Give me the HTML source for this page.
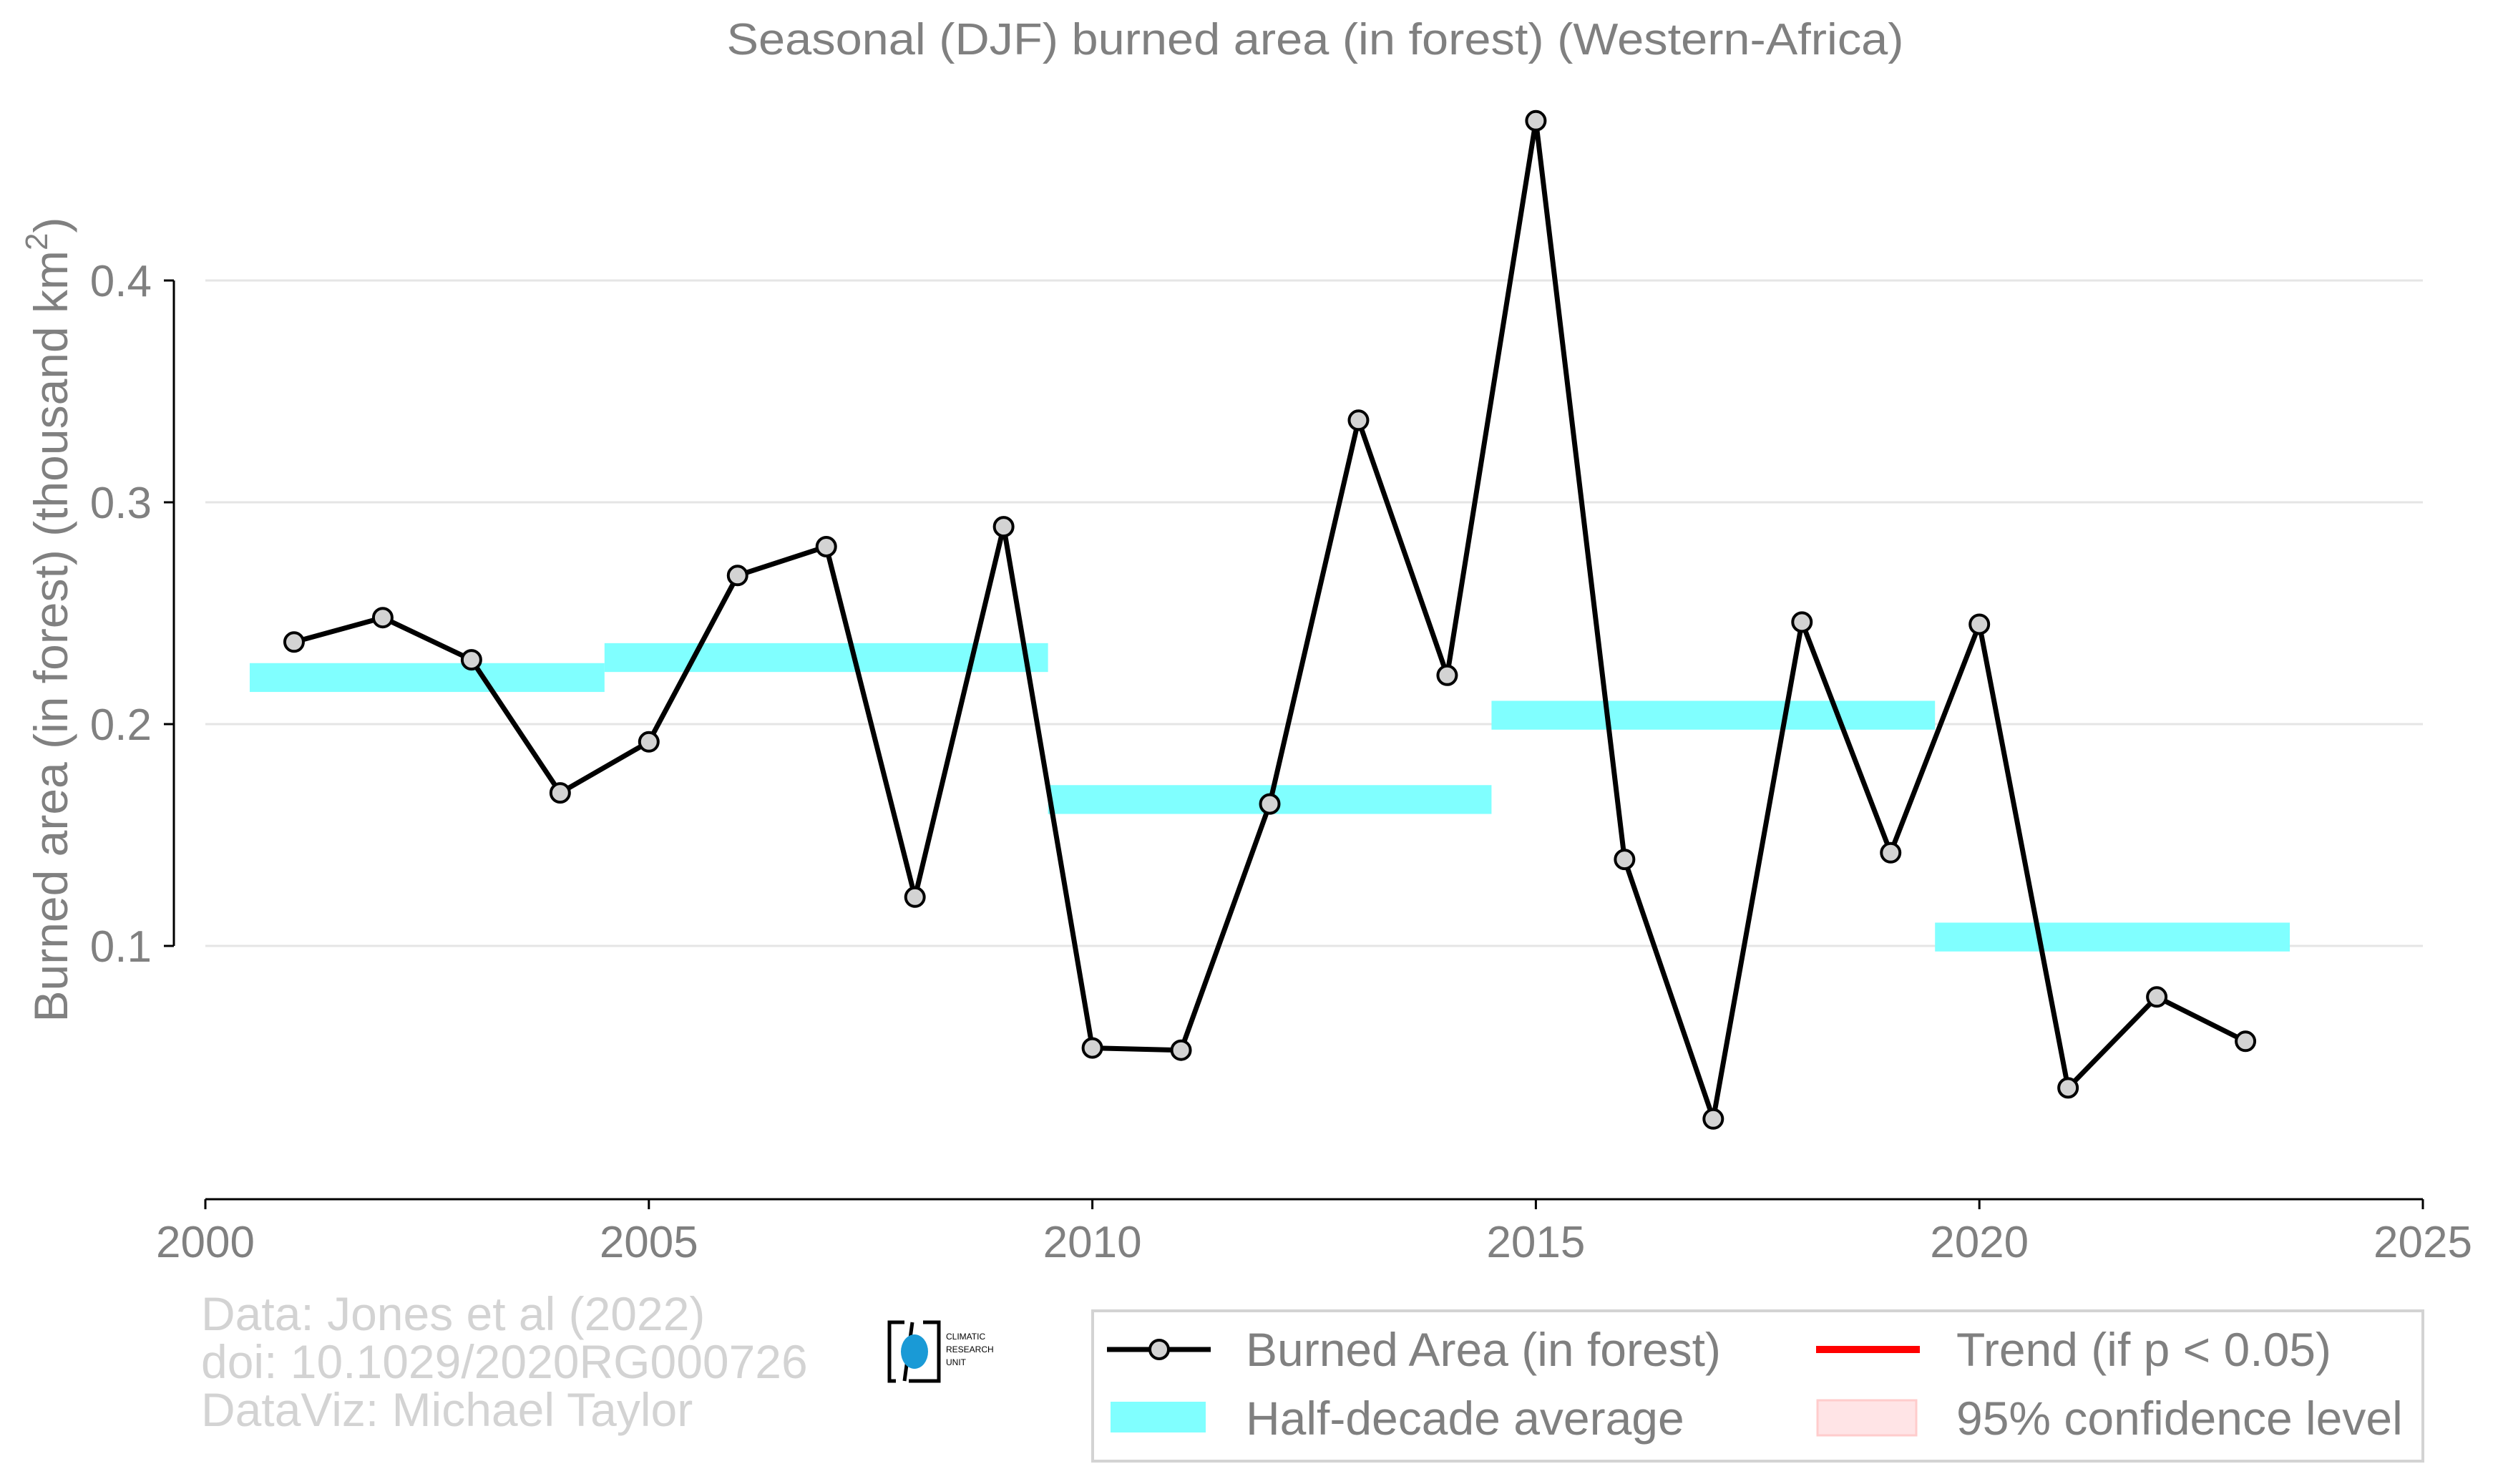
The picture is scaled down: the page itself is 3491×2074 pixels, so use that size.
<!DOCTYPE html>
<html><head><meta charset="utf-8"><style>
html,body{margin:0;padding:0;background:#fff;}
svg{display:block;font-family:"Liberation Sans",Arial,sans-serif;}
</style></head><body>
<svg id="chart" width="3491" height="2074" viewBox="0 0 3491 2074">
<text x="1838" y="76" font-size="62" fill="#808080" text-anchor="middle" textLength="1645" lengthAdjust="spacingAndGlyphs">Seasonal (DJF) burned area (in forest) (Western-Africa)</text>
<g id="grid"></g>
<g id="bars"></g>
<g id="series"></g>
<g id="axes"></g>
<text transform="translate(94,866) rotate(-90)" font-size="66" fill="#808080" text-anchor="middle">Burned area (in forest) (thousand km<tspan font-size="44" dy="-28">2</tspan><tspan dy="28">)</tspan></text>
<g font-size="66" fill="#d3d3d3">
<text x="281" y="1859">Data: Jones et al (2022)</text>
<text x="281" y="1926">doi: 10.1029/2020RG000726</text>
<text x="281" y="1993">DataViz: Michael Taylor</text>
</g>
<g>
<path d="M1264,1848 L1243,1848 L1243,1930 L1252,1930 M1275,1848 L1264,1930 M1290,1848 L1312,1848 L1312,1930 L1270,1930" fill="none" stroke="#000" stroke-width="5"/>
<ellipse cx="1278" cy="1889" rx="19" ry="24" fill="#1a9ad6"/>
<text x="1322" y="1872" font-size="12" fill="#000">CLIMATIC</text>
<text x="1322" y="1890" font-size="12" fill="#000">RESEARCH</text>
<text x="1322" y="1908" font-size="12" fill="#000">UNIT</text>
</g>
<g>
<rect x="1527" y="1832" width="1859" height="210" fill="#fff" stroke="#d3d3d3" stroke-width="4"/>
<g>
<line x1="1547" y1="1886" x2="1692" y2="1886" stroke="#000" stroke-width="7"/>
<circle cx="1620" cy="1886" r="13" fill="#d3d3d3" stroke="#000" stroke-width="4"/>
<text x="1741" y="1909" font-size="66" fill="#808080">Burned Area (in forest)</text>
</g>
<g>
<line x1="2538" y1="1886" x2="2683" y2="1886" stroke="#ff0000" stroke-width="10"/>
<text x="2734" y="1909" font-size="66" fill="#808080">Trend (if p &lt; 0.05)</text>
</g>
<g>
<rect x="1552" y="1959" width="133" height="43" fill="#80ffff"/>
<text x="1741" y="2005" font-size="66" fill="#808080">Half-decade average</text>
</g>
<g>
<rect x="2540" y="1957" width="138" height="49" fill="#ffe4e6" stroke="#ffcccc" stroke-width="3"/>
<text x="2734" y="2005" font-size="66" fill="#808080">95% confidence level</text>
</g>
</g>
</svg>
<script>
const years=[2001,2002,2003,2004,2005,2006,2007,2008,2009,2010,2011,2012,2013,2014,2015,2016,2017,2018,2019,2020,2021,2022,2023];
const burned=[0.237,0.248,0.229,0.169,0.192,0.267,0.280,0.122,0.289,0.054,0.053,0.164,0.337,0.222,0.472,0.139,0.022,0.246,0.142,0.245,0.036,0.077,0.057];
const halfStart=[2000.5,2004.5,2009.5,2014.5,2019.5];
const halfEnd=[2004.5,2009.5,2014.5,2019.5,2023.5];
const halfMean=[0.221,0.230,0.166,0.204,0.104];
const halfThickness=0.013;
const xTicks=[2000,2005,2010,2015,2020,2025];
const yTicks=[0.1,0.2,0.3,0.4];

const NS="http://www.w3.org/2000/svg";
const X=v=>287+(v-2000)*(3386-287)/25;
const Y=v=>1322-(v-0.1)*(1322-392)/0.3;
function mk(tag,attrs,parent){const e=document.createElementNS(NS,tag);for(const k in attrs)e.setAttribute(k,attrs[k]);parent.appendChild(e);return e;}
const grid=document.getElementById('grid'),bars=document.getElementById('bars'),series=document.getElementById('series'),axes=document.getElementById('axes');
yTicks.forEach(t=>{
  const g=mk('line',{x1:287,x2:3386,y1:Y(t),y2:Y(t),stroke:'#e5e5e5','stroke-width':3},grid);
  
  
  const tk=mk('line',{x1:229,x2:243,y1:Y(t),y2:Y(t),stroke:'#000','stroke-width':3},axes);
  
  
  const l=mk('text',{x:212,y:Y(t)+22,'font-size':62,fill:'#808080','text-anchor':'end'},axes);
  l.textContent=t.toFixed(1);
  
  
});
const ys=mk('line',{x1:243,x2:243,y1:Y(0.4),y2:Y(0.1),stroke:'#000','stroke-width':3},axes);


const xs=mk('line',{x1:287,x2:3386,y1:1676,y2:1676,stroke:'#000','stroke-width':3},axes);


xTicks.forEach(t=>{
  const tk=mk('line',{x1:X(t),x2:X(t),y1:1676,y2:1690,stroke:'#000','stroke-width':3},axes);
  
  
  const l=mk('text',{x:X(t),y:1757,'font-size':62,fill:'#808080','text-anchor':'middle'},axes);
  l.textContent=t;
  
  
});
halfMean.forEach((m,i)=>{
  const r=mk('rect',{x:X(halfStart[i]),width:X(halfEnd[i])-X(halfStart[i]),y:Y(m+halfThickness/2),height:Y(m-halfThickness/2)-Y(m+halfThickness/2),fill:'#80ffff'},bars);
  
  
});
const pl=mk('polyline',{points:years.map((y,i)=>X(y)+','+Y(burned[i])).join(' '),fill:'none',stroke:'#000','stroke-width':7,'stroke-linejoin':'round'},series);


years.forEach((y,i)=>{
  const c=mk('circle',{cx:X(y),cy:Y(burned[i]),r:13,fill:'#d3d3d3',stroke:'#000','stroke-width':4},series);
  
  
});
</script>
</body></html>
